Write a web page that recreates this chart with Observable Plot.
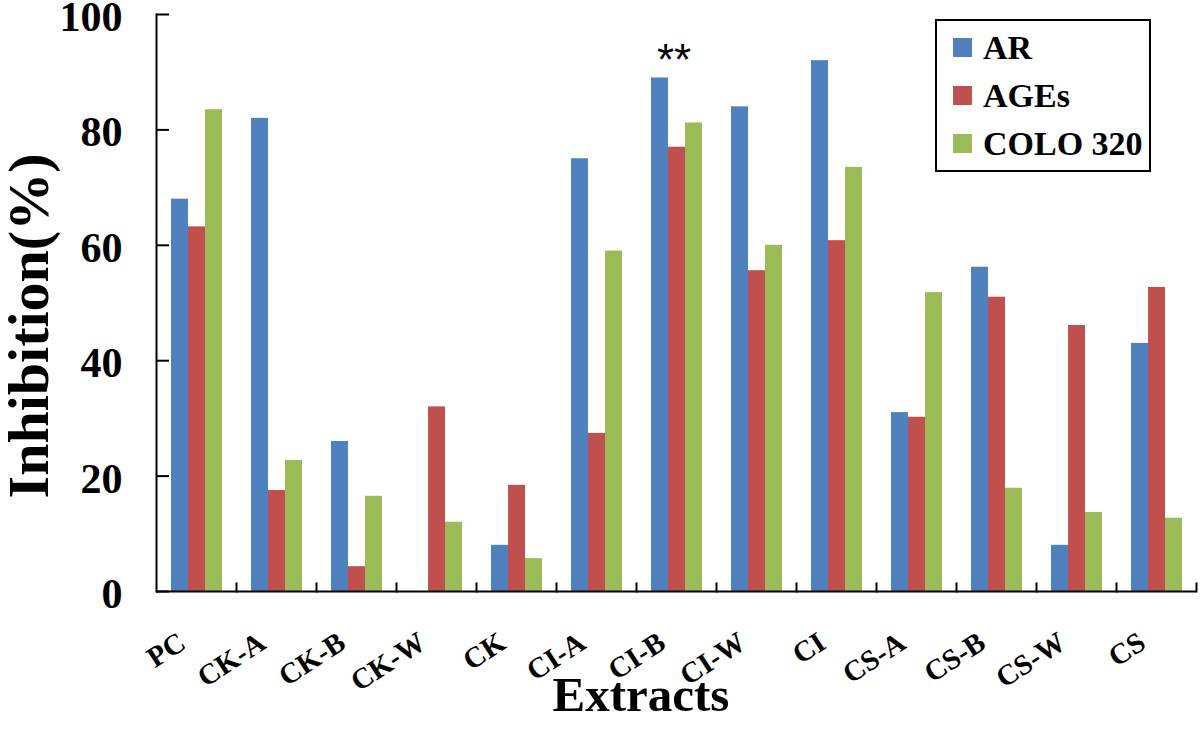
<!DOCTYPE html>
<html>
<head>
<meta charset="utf-8">
<script src="https://cdn.jsdelivr.net/npm/d3@7"></script>
<script src="https://cdn.jsdelivr.net/npm/@observablehq/plot@0.6"></script>
<style>
  html, body { margin: 0; padding: 0; background: #fff; }
  #wrap { position: relative; width: 1200px; height: 730px; overflow: hidden; font-family: "Liberation Serif", "Times New Roman", serif; }
  #chart svg { display: block; }
  .legend { position: absolute; left: 935px; top: 19px; width: 216px; height: 153px; border: 2px solid #000; box-sizing: border-box; background: #fff; font-weight: bold; font-size: 34px; color: #000; }
  .legend .item { position: absolute; left: 16px; height: 34px; line-height: 34px; white-space: nowrap; }
  .legend .sw { display: inline-block; width: 19px; height: 19px; margin-right: 11px; vertical-align: 2px; }
  .xtitle { position: absolute; left: 641px; top: 694px; transform: translate(-50%, -50%); font-weight: bold; font-size: 49px; white-space: nowrap; line-height: 1; }
</style>
</head>
<body>
<div id="wrap">
  <div id="chart"></div>
</div>
<script>
const categories = ["PC", "CK-A", "CK-B", "CK-W", "CK", "CI-A", "CI-B", "CI-W", "CI", "CS-A", "CS-B", "CS-W", "CS"];
const seriesNames = ["AR", "AGEs", "COLO 320"];
const arValues   = [68, 82, 26, null, 8, 75, 89, 84, 92, 31, 56.2, 8, 43];
const agesValues = [63.2, 17.5, 4.3, 32, 18.4, 27.4, 77, 55.6, 60.8, 30.2, 51, 46.1, 52.7];
const coloValues = [83.5, 22.7, 16.5, 12, 5.7, 59, 81.2, 60, 73.5, 51.8, 17.9, 13.7, 12.7];
const seriesColors = ["#4F81BD", "#C0504D", "#9BBB59"];
const yTicks = [0, 20, 40, 60, 80, 100];
const yTitle = "Inhibition(%)";
const xTitle = "Extracts";
const annotations = [{cat: "CI-B", series: "AGEs", ref: "AR", label: "**"}];

const seriesValues = [arValues, agesValues, coloValues];
const rows = categories.flatMap((c, i) => seriesNames.map((s, j) => ({cat: c, series: s, value: seriesValues[j][i]})))
  .filter(d => d.value != null);
const annotRows = annotations.map(a => ({...a, value: seriesValues[seriesNames.indexOf(a.ref)][categories.indexOf(a.cat)]}));

const font = "'Liberation Serif', 'Times New Roman', serif";
const plotH = 730 - 14 - 139;

const chart = Plot.plot({
  width: 1200,
  height: 730,
  marginLeft: 154,
  marginRight: 3,
  marginTop: 14,
  marginBottom: 139,
  style: {fontFamily: font, background: "#fff", color: "#000", overflow: "visible"},
  fx: {domain: categories, padding: 0, label: null},
  x: {domain: seriesNames, paddingInner: 0, paddingOuter: 0.73, axis: null},
  y: {domain: [0, 100]},
  color: {domain: seriesNames, range: seriesColors},
  marks: [
    Plot.barY(rows, {fx: "cat", x: "series", y: "value", fill: "series"}),
    Plot.ruleY([0], {stroke: "#000", strokeWidth: 2}),
    Plot.frame({anchor: "left", facetAnchor: "left", stroke: "#000", strokeWidth: 2}),
    Plot.frame({anchor: "right", insetTop: plotH - 8, stroke: "#000", strokeWidth: 2}),
    Plot.axisY({ticks: yTicks, tickSize: -13, tickFormat: () => "", label: null, strokeWidth: 2}),
    Plot.axisY({ticks: yTicks, tickSize: 0, tickPadding: 34, fontSize: 42, fontWeight: "bold", label: null, dy: 3, tickFormat: d => String(d)}),
    Plot.axisFx({anchor: "bottom", tickSize: 0, tickRotate: -33, textAnchor: "end", lineAnchor: "middle", tickPadding: 34, dx: -14, dy: 14, fontSize: 29, fontWeight: "bold", label: null}),
    Plot.text([yTitle], {text: d => d, frameAnchor: "left", facetAnchor: "left", rotate: -90, textAnchor: "middle", dx: -127, dy: 23, fontSize: 58, fontWeight: "bold", lineAnchor: "middle"}),
    Plot.text(annotRows, {fx: "cat", x: "series", y: "value", text: "label", fontSize: 44, fontFamily: "'Liberation Sans', sans-serif", lineAnchor: "bottom", dx: -3, dy: -3})
  ]
});
document.getElementById("chart").appendChild(chart);

const wrap = document.getElementById("wrap");
const legend = document.createElement("div");
legend.className = "legend";
const legendTops = [10, 58, 106];
seriesNames.forEach((s, i) => {
  const item = document.createElement("div");
  item.className = "item";
  item.style.top = legendTops[i] + "px";
  const sw = document.createElement("span");
  sw.className = "sw";
  sw.style.background = seriesColors[i];
  item.appendChild(sw);
  item.appendChild(document.createTextNode(s));
  legend.appendChild(item);
});
wrap.appendChild(legend);

const xt = document.createElement("div");
xt.className = "xtitle";
xt.textContent = xTitle;
wrap.appendChild(xt);
</script>
</body>
</html>
